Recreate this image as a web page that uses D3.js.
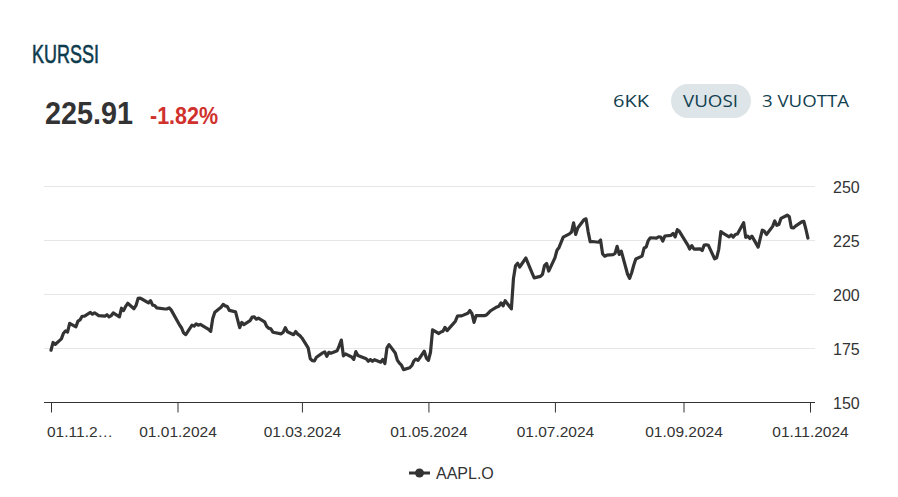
<!DOCTYPE html>
<html>
<head>
<meta charset="utf-8">
<script src="https://cdn.jsdelivr.net/npm/d3@7"></script>
<style>
  html, body { margin: 0; padding: 0; background: #fff; }
  svg { display: block; }
</style>
</head>
<body>
<svg id="chart" width="898" height="497"></svg>
<script>
// ---- DATA ----
const seriesName = "AAPL.O";
const lastPrice = "225.91";
const changePct = "-1.82%";
const rangeButtons = ["6KK", "VUOSI", "3 VUOTTA"];
const yTicks = [150, 175, 200, 225, 250];
const xTickDates = ["2023-11-01", "2024-01-01", "2024-03-01", "2024-05-01", "2024-07-01", "2024-09-01", "2024-11-01"];
const xTickLabels = ["01.11.2…", "01.01.2024", "01.03.2024", "01.05.2024", "01.07.2024", "01.09.2024", "01.11.2024"];

const dates = [
"2023-11-01","2023-11-02","2023-11-03","2023-11-06","2023-11-07","2023-11-08","2023-11-09","2023-11-10","2023-11-13","2023-11-14","2023-11-15","2023-11-16","2023-11-17","2023-11-20","2023-11-21","2023-11-22","2023-11-24","2023-11-27","2023-11-28","2023-11-29","2023-11-30",
"2023-12-01","2023-12-04","2023-12-05","2023-12-06","2023-12-07","2023-12-08","2023-12-11","2023-12-12","2023-12-13","2023-12-14","2023-12-15","2023-12-18","2023-12-19","2023-12-20","2023-12-21","2023-12-22","2023-12-26","2023-12-27","2023-12-28","2023-12-29",
"2024-01-02","2024-01-03","2024-01-04","2024-01-05","2024-01-08","2024-01-09","2024-01-10","2024-01-11","2024-01-12","2024-01-16","2024-01-17","2024-01-18","2024-01-19","2024-01-22","2024-01-23","2024-01-24","2024-01-25","2024-01-26","2024-01-29","2024-01-30","2024-01-31",
"2024-02-01","2024-02-02","2024-02-05","2024-02-06","2024-02-07","2024-02-08","2024-02-09","2024-02-12","2024-02-13","2024-02-14","2024-02-15","2024-02-16","2024-02-20","2024-02-21","2024-02-22","2024-02-23","2024-02-26","2024-02-27","2024-02-28","2024-02-29",
"2024-03-01","2024-03-04","2024-03-05","2024-03-06","2024-03-07","2024-03-08","2024-03-11","2024-03-12","2024-03-13","2024-03-14","2024-03-15","2024-03-18","2024-03-19","2024-03-20","2024-03-21","2024-03-22","2024-03-25","2024-03-26","2024-03-27","2024-03-28",
"2024-04-01","2024-04-02","2024-04-03","2024-04-04","2024-04-05","2024-04-08","2024-04-09","2024-04-10","2024-04-11","2024-04-12","2024-04-15","2024-04-16","2024-04-17","2024-04-18","2024-04-19","2024-04-22","2024-04-23","2024-04-24","2024-04-25","2024-04-26","2024-04-29","2024-04-30",
"2024-05-01","2024-05-02","2024-05-03","2024-05-06","2024-05-07","2024-05-08","2024-05-09","2024-05-10","2024-05-13","2024-05-14","2024-05-15","2024-05-16","2024-05-17","2024-05-20","2024-05-21","2024-05-22","2024-05-23","2024-05-24","2024-05-28","2024-05-29","2024-05-30","2024-05-31",
"2024-06-03","2024-06-04","2024-06-05","2024-06-06","2024-06-07","2024-06-10","2024-06-11","2024-06-12","2024-06-13","2024-06-14","2024-06-17","2024-06-18","2024-06-20","2024-06-21","2024-06-24","2024-06-25","2024-06-26","2024-06-27","2024-06-28",
"2024-07-01","2024-07-02","2024-07-03","2024-07-05","2024-07-08","2024-07-09","2024-07-10","2024-07-11","2024-07-12","2024-07-15","2024-07-16","2024-07-17","2024-07-18","2024-07-19","2024-07-22","2024-07-23","2024-07-24","2024-07-25","2024-07-26","2024-07-29","2024-07-30","2024-07-31",
"2024-08-01","2024-08-02","2024-08-05","2024-08-06","2024-08-07","2024-08-08","2024-08-09","2024-08-12","2024-08-13","2024-08-14","2024-08-15","2024-08-16","2024-08-19","2024-08-20","2024-08-21","2024-08-22","2024-08-23","2024-08-26","2024-08-27","2024-08-28","2024-08-29","2024-08-30",
"2024-09-03","2024-09-04","2024-09-05","2024-09-06","2024-09-09","2024-09-10","2024-09-11","2024-09-12","2024-09-13","2024-09-16","2024-09-17","2024-09-18","2024-09-19","2024-09-20","2024-09-23","2024-09-24","2024-09-25","2024-09-26","2024-09-27","2024-09-30",
"2024-10-01","2024-10-02","2024-10-03","2024-10-04","2024-10-07","2024-10-08","2024-10-09","2024-10-10","2024-10-11","2024-10-14","2024-10-15","2024-10-16","2024-10-17","2024-10-18","2024-10-21","2024-10-22","2024-10-23","2024-10-24","2024-10-25","2024-10-28","2024-10-29","2024-10-30","2024-10-31"
];

const closes = [
173.97,177.57,176.65,179.23,181.82,182.89,182.41,186.40,184.80,187.44,188.01,189.71,189.69,191.45,190.64,191.31,189.97,189.79,190.40,189.37,189.95,
191.24,189.43,193.42,192.32,194.27,195.71,193.18,194.71,197.96,198.11,197.57,195.89,196.94,194.83,194.68,193.60,193.05,193.15,193.58,192.53,
185.64,184.25,181.91,181.18,185.56,185.14,186.19,185.59,185.92,183.63,182.68,188.63,191.56,193.89,195.18,194.50,194.17,192.42,191.73,188.04,184.40,
186.86,185.85,187.68,189.30,189.41,188.32,188.85,187.15,185.04,184.15,183.86,182.31,181.56,182.32,184.37,182.52,181.16,182.63,181.42,180.75,
179.66,175.10,170.12,169.12,169.00,170.73,172.75,173.23,171.13,173.00,172.62,173.72,176.08,178.67,171.37,172.28,170.85,169.71,173.31,171.48,
170.03,168.84,169.65,168.82,169.58,168.45,169.67,167.78,175.04,176.55,172.69,169.38,168.00,167.04,165.00,165.84,166.90,169.02,169.89,169.30,173.50,170.33,
169.30,173.03,183.38,181.71,182.40,182.74,184.57,183.05,186.28,187.43,189.72,189.84,189.87,191.04,192.35,190.90,186.88,189.98,189.99,190.29,191.29,192.25,
194.03,194.35,195.87,194.48,196.89,193.12,207.15,213.07,214.24,212.49,216.67,214.29,209.68,207.49,208.14,209.07,213.25,214.10,210.62,
216.75,220.27,221.55,226.34,227.82,228.68,232.98,227.57,230.54,234.40,234.82,228.88,224.18,224.31,223.96,225.01,218.54,217.49,217.96,218.24,218.80,222.08,
218.36,219.86,209.27,207.23,209.82,213.31,216.24,217.53,221.27,221.72,224.72,226.05,225.89,226.51,226.40,224.53,226.84,227.18,228.03,226.49,229.79,229.00,
222.77,220.85,222.38,220.82,220.91,220.11,222.66,222.77,222.50,216.32,216.79,220.69,228.87,228.20,226.47,227.37,226.37,227.52,227.79,233.00,
226.21,226.78,225.67,226.80,221.69,225.77,229.54,229.04,227.55,231.30,233.85,231.78,232.15,235.00,236.48,235.86,230.76,230.57,231.41,233.40,233.67,230.10,225.91
];

// ---- CHART ----
const parse = d3.utcParse("%Y-%m-%d");
const data = dates.map((d, i) => ({ date: parse(d), value: closes[i] }));

const svg = d3.select("#chart");
const plotLeft = 44, plotRight = 815;

const x = d3.scaleUtc()
  .domain([parse(xTickDates[0]), parse(xTickDates[xTickDates.length - 1])])
  .range([51, 810]);
const y = d3.scaleLinear().domain([150, 250]).range([402, 186]);

// Title
svg.append("text")
  .attr("x", 32).attr("y", 63)
  .attr("textLength", 67).attr("lengthAdjust", "spacingAndGlyphs")
  .style("font-family", "'Liberation Sans', Arial, sans-serif")
  .style("font-weight", "normal").style("font-size", "26.5px")
  .style("stroke", "#0d3b4d").style("stroke-width", 0.6)
  .style("fill", "#0d3b4d")
  .text("KURSSI");

// Price & change
svg.append("text")
  .attr("x", 45).attr("y", 124)
  .attr("textLength", 88).attr("lengthAdjust", "spacingAndGlyphs")
  .style("font-family", "'Liberation Sans', Arial, sans-serif")
  .style("font-weight", "bold").style("font-size", "32px")
  .style("fill", "#333333")
  .text(lastPrice);
svg.append("text")
  .attr("x", 150).attr("y", 124)
  .attr("textLength", 68).attr("lengthAdjust", "spacingAndGlyphs")
  .style("font-family", "'Liberation Sans', Arial, sans-serif")
  .style("font-weight", "bold").style("font-size", "24px")
  .style("fill", "#d0312d")
  .text(changePct);

// Range buttons
svg.append("rect")
  .attr("x", 671).attr("y", 84).attr("width", 80).attr("height", 34)
  .attr("rx", 17).attr("ry", 17)
  .style("fill", "#dde5e8");
const btnPos = [{ x: 613, w: 36 }, { x: 683, w: 55 }, { x: 762, w: 87 }];
rangeButtons.forEach((b, i) => {
  svg.append("text")
    .attr("x", btnPos[i].x).attr("y", 107)
    .attr("textLength", btnPos[i].w).attr("lengthAdjust", "spacingAndGlyphs")
    .style("font-family", "'Open Sans', sans-serif")
    .style("font-weight", "500").style("font-size", "17px")
    .style("fill", "#123f4f")
    .text(b);
});

// Gridlines
svg.append("g").selectAll("line")
  .data(yTicks.filter(t => t !== 150))
  .join("line")
  .attr("x1", plotLeft).attr("x2", plotRight)
  .attr("y1", d => y(d) + 0.5).attr("y2", d => y(d) + 0.5)
  .style("stroke", "#e6e6e6").style("stroke-width", 1);

// Y axis labels (right)
svg.append("g").selectAll("text")
  .data(yTicks)
  .join("text")
  .attr("x", 833).attr("y", d => y(d) + 7)
  .style("font-family", "'Liberation Sans', Arial, sans-serif")
  .style("font-size", "16px").style("fill", "#333333")
  .text(d => d);

// X axis
const xAxisG = svg.append("g").attr("transform", "translate(0,402)");
xAxisG.append("line")
  .attr("x1", plotLeft).attr("x2", plotRight)
  .attr("y1", 0.5).attr("y2", 0.5)
  .style("stroke", "#333333").style("stroke-width", 1);
const xAxis = d3.axisBottom(x)
  .tickValues(xTickDates.map(parse))
  .tickSize(10)
  .tickFormat((d, i) => xTickLabels[i]);
const ag = xAxisG.append("g").attr("transform", "translate(0,0.5)").call(xAxis);
ag.select(".domain").remove();
ag.selectAll(".tick line").style("stroke", "#333333");
ag.selectAll(".tick text")
  .attr("y", 23).attr("dy", "0.71em")
  .style("font-family", "'Liberation Sans', Arial, sans-serif")
  .style("font-size", "15.5px").style("fill", "#333333");
ag.selectAll(".tick text").filter((d, i) => i === 0)
  .attr("text-anchor", "start").attr("x", -4.5);

// Line
const line = d3.line()
  .x(d => x(d.date))
  .y(d => y(d.value))
  .curve(d3.curveLinear);
svg.append("path")
  .datum(data)
  .attr("d", line)
  .style("fill", "none")
  .style("stroke", "#333333")
  .style("stroke-width", 3.2)
  .style("stroke-linejoin", "round")
  .style("stroke-linecap", "round");

// Legend
const lg = svg.append("g").attr("transform", "translate(409,473)");
lg.append("line").attr("x1", 0).attr("x2", 21).attr("y1", 0).attr("y2", 0)
  .style("stroke", "#333333").style("stroke-width", 3);
lg.append("circle").attr("cx", 10.5).attr("cy", 0).attr("r", 4.5)
  .style("fill", "#333333");
lg.append("text").attr("x", 27).attr("y", 5.5)
  .style("font-family", "'Liberation Sans', Arial, sans-serif")
  .style("font-size", "16px").style("fill", "#333333")
  .text(seriesName);
</script>
</body>
</html>
